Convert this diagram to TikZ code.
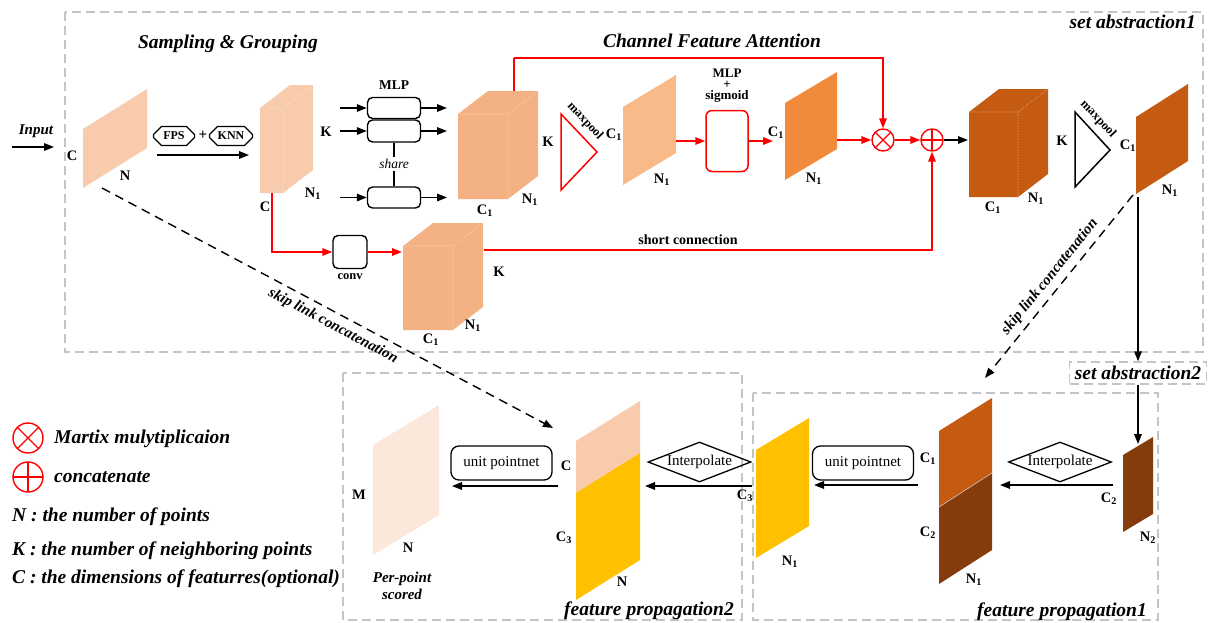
\documentclass[tikz,border=0pt]{standalone}
\usepackage{fontspec}
\setmainfont{Liberation Serif}
\usetikzlibrary{arrows.meta,shapes.geometric,shapes.misc}
\definecolor{cpeach}{HTML}{F8CBAD}
\definecolor{ctan}{HTML}{F4B183}
\definecolor{csalmon}{HTML}{F9BA8A}
\definecolor{corange}{HTML}{F28A3B}
\definecolor{crust}{HTML}{C55A11}
\definecolor{cbrown}{HTML}{843C0C}
\definecolor{cgold}{HTML}{FFC000}
\definecolor{cpale}{HTML}{FCE8DA}
\definecolor{cgray}{HTML}{C4C4C4}
\definecolor{cred}{HTML}{FF0000}
\newcommand\lsub[2]{\textbf{#1}\textsubscript{\textbf{#2}}}
\newcommand\slabshape[6]{\fill[#6] (#1,#2) -- (#3,#4) -- (#3,#4+#5) -- (#1,#2+#5) -- cycle;}
\newcommand\cubeshape[5]{%
  \fill[#5] (#1,#2) -- (#1+30,#2-23) -- (#3+30,#2-23) -- (#3+30,#4-23) -- (#3,#4) -- (#1,#4) -- cycle;
  \draw[white!55!#5, densely dotted, line width=0.6pt] (#1,#2) -- (#3,#2) -- (#3+30,#2-23) (#3,#2) -- (#3,#4);}
\tikzset{
  lbl/.style={font=\fontsize{14.5}{16}\selectfont\bfseries, inner sep=0pt},
  ttl/.style={font=\fontsize{19.5}{22}\selectfont\bfseries\itshape, inner sep=0pt},
  gbox/.style={draw=cgray, dash pattern=on 9pt off 5pt, line width=1.3pt},
  blkarr/.style={draw=black, line width=1.6pt, -{Triangle[length=10pt,width=7.5pt]}},
  redarr/.style={draw=cred, line width=1.6pt, -{Triangle[length=10pt,width=7.5pt]}},
  redln/.style={draw=cred, line width=1.6pt},
  dasharr/.style={draw=black, line width=1.4pt, dash pattern=on 9pt off 6pt, -{Triangle[length=10pt,width=7.5pt]}},
  mlpbox/.style={draw, line width=1.4pt, rounded corners=5pt, minimum width=53pt, minimum height=21pt, inner sep=0pt},
  upbox/.style={draw, line width=1.3pt, rounded corners=8pt, minimum width=101pt, minimum height=34pt, inner sep=0pt, font=\fontsize{15}{17}\selectfont},
  interp/.style={diamond, draw, line width=1.3pt, aspect=2.6, minimum width=103pt, minimum height=40pt, inner sep=0pt, font=\fontsize{15}{17}\selectfont},
  hexa/.style={chamfered rectangle, chamfered rectangle xsep=5pt, draw, line width=1.3pt, minimum height=19pt, inner sep=1pt, font=\fontsize{12}{14}\selectfont\bfseries},
  mulnode/.style={circle, draw=cred, line width=1.4pt, minimum size=#1, inner sep=0pt,
    path picture={\draw[cred, line width=1.2pt] (path picture bounding box.north west) -- (path picture bounding box.south east) (path picture bounding box.north east) -- (path picture bounding box.south west);}},
  addnode/.style={circle, draw=cred, line width=1.4pt, minimum size=#1, inner sep=0pt,
    path picture={\draw[cred, line width=1.2pt] (path picture bounding box.north) -- (path picture bounding box.south) (path picture bounding box.east) -- (path picture bounding box.west);}},
  legtext/.style={font=\fontsize{19.5}{22}\selectfont\bfseries\itshape, inner sep=0pt, anchor=base west},
  skiptext/.style={font=\fontsize{15}{17}\selectfont\bfseries\itshape, inner sep=0pt},
  mptext/.style={font=\fontsize{12.5}{14}\selectfont\bfseries, inner sep=0pt, rotate=-47}
}
\begin{document}
\begin{tikzpicture}[x=1pt,y=-1pt]
\useasboundingbox (0,0) rectangle (1211,622);
% ---------- dashed frames
\draw[gbox] (65,12) rectangle (1203,352);
\draw[gbox] (343,373) rectangle (742,620);
\draw[gbox] (753,393) rectangle (1158,620);
% ---------- titles
\node[ttl, anchor=base east] (tsa1) at (1196,28) {set abstraction1};
\node[ttl, anchor=base] (tsg) at (228,48) {Sampling \& Grouping};
\node[ttl, anchor=base] (tcfa) at (712,47) {Channel Feature Attention};
\node[ttl, anchor=base] (tfp2) at (649,615) {feature propagation2};
\node[ttl, anchor=base] (tfp1) at (1062,616) {feature propagation1};
% ---------- input
\node[font=\fontsize{15}{17}\selectfont\bfseries\itshape, inner sep=0pt] (tin) at (36,131) {Input};
\coordinate (in0) at (12,147);
\coordinate (in1) at (54,147);
\draw[blkarr] (in0) -- (in1);
\slabshape{83}{129}{147}{89}{59}{cpeach}
\node[lbl] (l1) at (72,156) {C};
\node[lbl] (l2) at (125,176) {N};
% ---------- sampling & grouping
\node[hexa, minimum width=41pt] (fps) at (174,136) {FPS};
\node[hexa, minimum width=43pt] (knn) at (231,136) {KNN};
\node[font=\fontsize{15}{17}\selectfont\bfseries, inner sep=0pt] (plus) at (203,135) {+};
\coordinate (sg0) at (157,155);
\coordinate (sg1) at (249,155);
\draw[blkarr] (sg0) -- (sg1);
\cubeshape{260}{108}{283}{193}{cpeach}
\node[lbl] (l3) at (326,132) {K};
\node[lbl] (l4) at (265,207) {C};
\node[lbl] (l5) at (313,194) {\lsub{N}{1}};
% MLP boxes
\node[font=\fontsize{13.5}{15}\selectfont\bfseries, inner sep=0pt] (tmlp) at (394,85) {MLP};
\node[mlpbox] (b1) at (394,108) {};
\node[mlpbox, minimum height=22pt] (b2) at (394,131) {};
\node[mlpbox] (b3) at (394,197.5) {};
\node[font=\fontsize{13.5}{15}\selectfont\itshape, inner sep=2pt] (share) at (394,164) {share};
\draw[line width=1.2pt] (b2.south) -- (share.north) (share.south) -- (b3.north);
\coordinate (i1) at (340,108);
\coordinate (i2) at (340,131);
\coordinate (i3) at (340,197.5);
\coordinate (o1) at (447,108);
\coordinate (o2) at (447,131);
\coordinate (o3) at (447,197.5);
\draw[blkarr] (i1) -- (b1.west);
\draw[blkarr] (i2) -- (b2.west);
\draw[blkarr] (i3) -- (b3.west);
\draw[blkarr] (b1.east) -- (o1);
\draw[blkarr] (b2.east) -- (o2);
\draw[blkarr] (b3.east) -- (o3);
% cube 3
\cubeshape{458}{114}{508}{199}{ctan}
\node[lbl] (l6) at (548,142) {K};
\node[lbl] (l7) at (485,211) {\lsub{C}{1}};
\node[lbl] (l8) at (530,200) {\lsub{N}{1}};
% ---------- channel feature attention
\draw[cred, line width=1.5pt] (561,114) -- (561,190) -- (597,152) -- cycle;
\node[mptext] (mp1) at (585,121) {maxpool};
\slabshape{623}{107}{676}{75}{78}{csalmon}
\node[lbl] (l9) at (614,135) {\lsub{C}{1}};
\node[lbl] (l10) at (662,180) {\lsub{N}{1}};
\node[draw=cred, line width=1.5pt, rounded corners=6pt, minimum width=42pt, minimum height=61pt, inner sep=0pt] (sig) at (727,141) {};
\node[font=\fontsize{13}{11}\selectfont\bfseries, inner sep=0pt, align=center] (tsig) at (727,86) {MLP\\+\\sigmoid};
\slabshape{785}{103}{837}{72}{77}{corange}
\node[lbl] (l11) at (776,133) {\lsub{C}{1}};
\node[lbl] (l12) at (814,179) {\lsub{N}{1}};
\node[mulnode=22pt] (mul) at (883,140) {};
\node[addnode=22pt] (add) at (932,140) {};
\coordinate (s2e) at (676,141);
\coordinate (s3w) at (773,141);
\coordinate (s3e) at (837,140);
\coordinate (c3top) at (514,91);
\coordinate (redtop) at (514,58);
\draw[redarr] (s2e) -- (sig.west);
\draw[redarr] (sig.east) -- (s3w);
\draw[redarr] (s3e) -- (mul.west);
\draw[redarr] (mul.east) -- (add.west);
\draw[redln] (c3top) -- (redtop);
\draw[redarr] (redtop) -| (mul.north);
% cube 4
\coordinate (c4w) at (968,140);
\draw[blkarr] (add.east) -- (c4w);
\cubeshape{969}{112}{1018}{197}{crust}
\node[lbl] (l13) at (1062,141) {K};
\node[lbl] (l14) at (993,208) {\lsub{C}{1}};
\node[lbl] (l15) at (1036,199) {\lsub{N}{1}};
\draw[line width=1.5pt] (1075,112) -- (1075,187) -- (1110,150) -- cycle;
\node[mptext] (mp2) at (1098,119) {maxpool};
\node[lbl] (l16) at (1128,146) {\lsub{C}{1}};
\slabshape{1136}{117}{1188}{84}{77}{crust}
\node[lbl] (l17) at (1170,191) {\lsub{N}{1}};
% ---------- short connection branch
\coordinate (c2b) at (272,193);
\node[draw, line width=1.4pt, rounded corners=5pt, minimum width=34pt, minimum height=33pt, inner sep=0pt] (conv) at (350,252) {};
\node[font=\fontsize{12.5}{14}\selectfont\bfseries, inner sep=0pt] (tconv) at (350,277) {conv};
\draw[redarr] (c2b) |- (conv.west);
\coordinate (c5w) at (402,252);
\draw[redarr] (conv.east) -- (c5w);
\cubeshape{403}{246}{453}{330}{ctan}
\node[lbl] (l18) at (499,272) {K};
\node[lbl] (l19) at (431,340) {\lsub{C}{1}};
\node[lbl] (l20) at (473,326) {\lsub{N}{1}};
\coordinate (c5e) at (484,250);
\draw[redarr] (c5e) -| (add.south);
\node[lbl, font=\fontsize{14}{16}\selectfont\bfseries] (tsc) at (688,240) {short connection};
% ---------- skip links
\coordinate (s1b) at (102,188);
\coordinate (fp2in) at (553,428);
\draw[dasharr] (s1b) -- (fp2in);
\node[skiptext, rotate=-28] (tsk1) at (333,326) {skip link concatenation};
\coordinate (s4bl) at (1133,195);
\coordinate (fp1in) at (985,378);
\draw[dasharr] (s4bl) -- (fp1in);
\node[skiptext, rotate=51] (tsk2) at (1050,277) {skip link concatenation};
% ---------- set abstraction2
\node[gbox, minimum width=137pt, minimum height=22pt, inner sep=0pt, font=\fontsize{19.5}{22}\selectfont\bfseries\itshape] (sa2) at (1138,373) {set abstraction2};
\coordinate (s4b) at (1138,197);
\coordinate (n2t) at (1138,444);
\draw[blkarr] (s4b) -- (sa2.north);
\draw[blkarr] (sa2.south) -- (n2t);
% ---------- feature propagation1
\slabshape{1123}{455}{1153}{437}{77}{cbrown}
\node[lbl] (l21) at (1109,499) {\lsub{C}{2}};
\node[lbl] (l22) at (1148,538) {\lsub{N}{2}};
\node[interp] (ip1) at (1060,462) {Interpolate};
\coordinate (n2w) at (1113,485);
\coordinate (cc1e) at (1000,485);
\draw[blkarr] (n2w) -- (cc1e);
\slabshape{939}{431}{992}{398}{76}{crust}
\slabshape{939}{507}{992}{473}{77}{cbrown}
\draw[white!70!cbrown, line width=0.6pt] (939,507) -- (992,473);
\node[lbl] (l23) at (928,459) {\lsub{C}{1}};
\node[lbl] (l24) at (928,533) {\lsub{C}{2}};
\node[lbl] (l25) at (974,580) {\lsub{N}{1}};
\node[upbox] (up1) at (863,463) {unit pointnet};
\coordinate (cc1w) at (918,485);
\coordinate (y1e) at (814,485);
\draw[blkarr] (cc1w) -- (y1e);
\slabshape{756}{450}{809}{418}{108}{cgold}
\node[lbl] (l26) at (790,562) {\lsub{N}{1}};
\node[lbl] (l27) at (745,496) {\lsub{C}{3}};
% ---------- feature propagation2
\coordinate (y1w) at (752,486);
\coordinate (cc2e) at (645,486);
\draw[blkarr] (y1w) -- (cc2e);
\node[interp] (ip2) at (699.5,462) {Interpolate};
\slabshape{576}{441}{640}{401}{52}{cpeach}
\slabshape{576}{493}{640}{453}{107}{cgold}
\node[lbl] (l28) at (566,466) {C};
\node[lbl] (l29) at (564,538) {\lsub{C}{3}};
\node[lbl] (l30) at (622,582) {N};
\node[upbox] (up2) at (501.5,463) {unit pointnet};
\coordinate (cc2w) at (558,486);
\coordinate (ppe) at (452,486);
\draw[blkarr] (cc2w) -- (ppe);
\slabshape{373}{445}{439}{405}{110}{cpale}
\node[lbl] (l31) at (359,495) {M};
\node[lbl] (l32) at (408,548) {N};
\node[font=\fontsize{15}{17}\selectfont\bfseries\itshape, inner sep=0pt, align=center] (tpp) at (402,586) {Per-point\\scored};
% ---------- legend
\node[mulnode=30pt] (lgm) at (28,438) {};
\node[legtext] (lt1) at (54,443) {Martix mulytiplicaion};
\node[addnode=30pt] (lga) at (28,477) {};
\node[legtext] (lt2) at (54,482) {concatenate};
\node[legtext] (lt3) at (12,521) {N : the number of points};
\node[legtext] (lt4) at (12,555) {K : the number of neighboring points};
\node[legtext] (lt5) at (12,583) {C : the dimensions of featurres(optional)};
\end{tikzpicture}
\end{document}
